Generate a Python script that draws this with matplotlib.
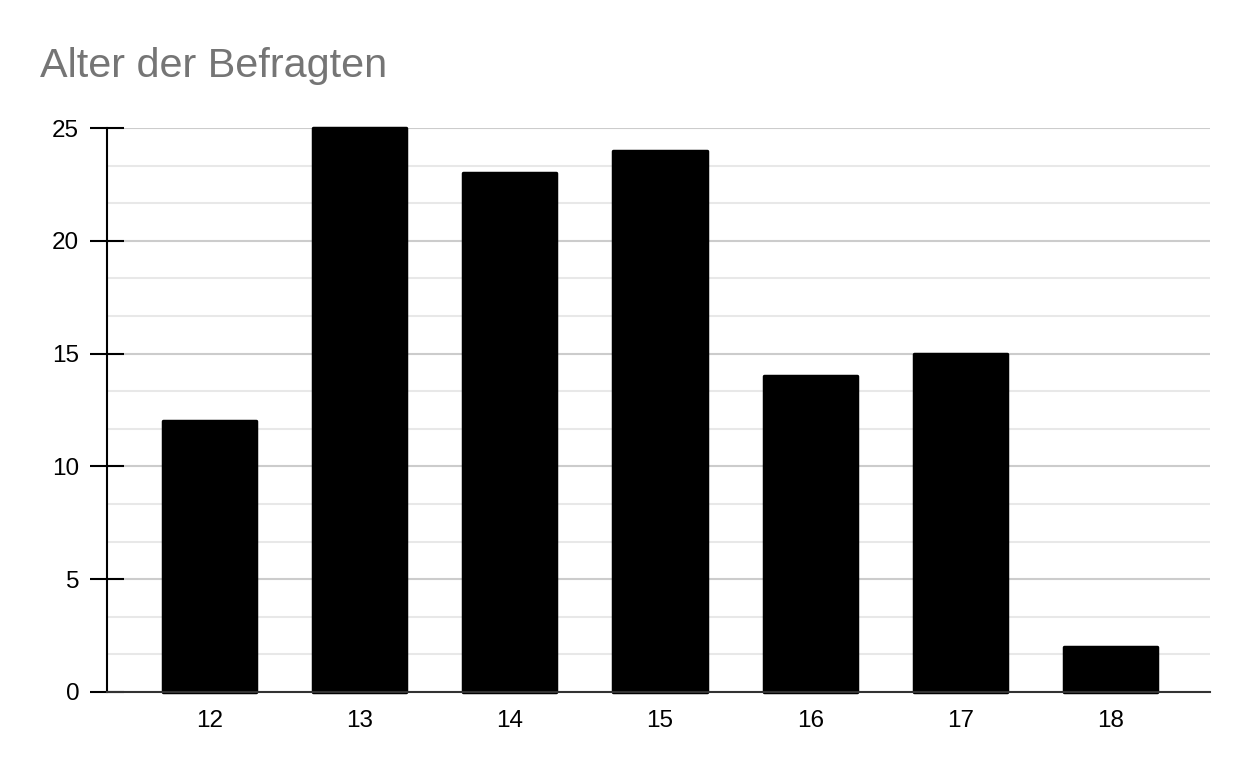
import matplotlib.pyplot as plt
from matplotlib.ticker import MultipleLocator

# Data
ages = ['12', '13', '14', '15', '16', '17', '18']
counts = [12, 25, 23, 24, 14, 15, 2]

plt.rcParams['font.family'] = ['Liberation Sans', 'DejaVu Sans']

fig = plt.figure(figsize=(12.5, 7.73), dpi=100)
ax = fig.add_axes([0.0856, 0.1048, 0.8824, 0.7296])

x = range(len(ages))
bars = ax.bar(x, counts, width=0.62, color='black', edgecolor='black',
              linewidth=2.5, joinstyle='round', zorder=3)
for b in bars:
    b.set_clip_on(False)

ax.set_xlim(-0.68, 6.66)
ax.set_ylim(0, 25)
ax.set_xticks(list(x))
ax.set_xticklabels(ages)
ax.yaxis.set_major_locator(MultipleLocator(5))
ax.yaxis.set_minor_locator(MultipleLocator(5 / 3))

# Gridlines
ax.grid(axis='y', which='major', color='#cccccc', linewidth=1.5, zorder=0)
ax.grid(axis='y', which='minor', color='#e8e8e8', linewidth=1.5, zorder=0)
ax.set_axisbelow(True)

for s in ['top', 'right']:
    ax.spines[s].set_visible(False)
ax.spines['left'].set_color('black')
ax.spines['left'].set_linewidth(1.5)
ax.spines['bottom'].set_color('#333333')
ax.spines['bottom'].set_linewidth(1.5)
ax.spines['bottom'].set_zorder(4)

ax.tick_params(axis='y', which='major', direction='inout', length=24, width=1.5,
               labelsize=17.5, pad=8, color='black')
ax.tick_params(axis='y', which='minor', length=0)
ax.tick_params(axis='x', length=0, labelsize=17.5, pad=13)

fig.text(0.032, 0.914, 'Alter der Befragten', fontsize=29.8, color='#757575',
         va='center', ha='left')

fig.savefig('out.png', dpi=100)
